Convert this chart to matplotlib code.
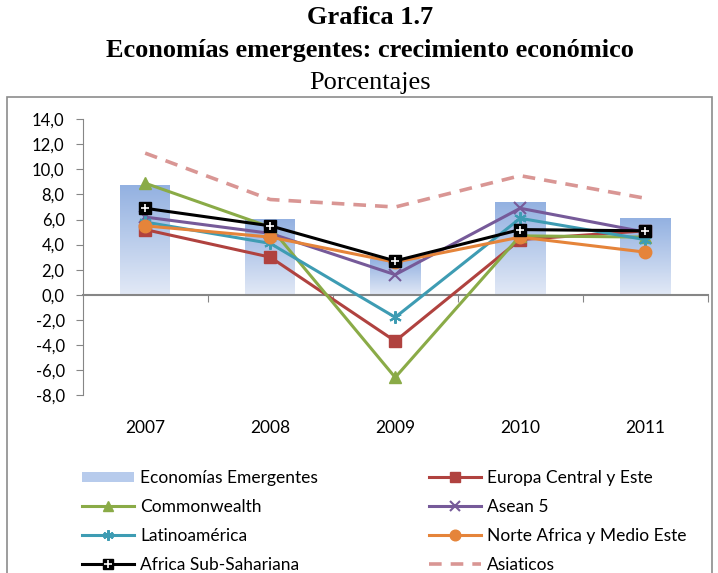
"""Grafica 1.7 -- Economias emergentes: crecimiento economico (porcentajes)."""
import matplotlib
matplotlib.use("Agg")
import matplotlib.pyplot as plt
import numpy as np
from matplotlib.colors import LinearSegmentedColormap
from matplotlib.legend_handler import HandlerTuple
from matplotlib.patches import Patch, Rectangle
from matplotlib.ticker import FuncFormatter

years = ["2007", "2008", "2009", "2010", "2011"]

emergentes = [8.7, 6.0, 2.8, 7.4, 6.1]
europa_central = [5.2, 3.0, -3.7, 4.4, 5.1]
commonwealth = [8.9, 5.4, -6.6, 4.7, 4.6]
asean5 = [6.2, 4.9, 1.6, 6.9, 5.0]
latinoamerica = [5.8, 4.1, -1.8, 6.1, 4.4]
norte_africa = [5.5, 4.6, 2.6, 4.6, 3.4]
africa_sub = [6.9, 5.5, 2.7, 5.2, 5.1]
asiaticos = [11.3, 7.6, 7.0, 9.5, 7.7]

FONT = "Lato"
plt.rcParams["font.family"] = [FONT, "DejaVu Sans"]

fig = plt.figure(figsize=(7.18, 5.73), dpi=100)
W, H = 718.0, 573.0
ax = fig.add_axes([82.7 / W, 1 - 395 / H, 625 / W, 275.7 / H])

x = np.arange(len(years))

# gradient bars (Economias Emergentes)
cmap = LinearSegmentedColormap.from_list("bar", ["#e2e9f6", "#93b1e1"])
grad = np.linspace(0, 1, 256).reshape(-1, 1)
for xi, v in zip(x, emergentes):
    ax.imshow(grad, cmap=cmap, origin="lower", aspect="auto",
              extent=[xi - 0.2, xi + 0.2, 0, v], zorder=1)

lw = 2.2
series = [
    (europa_central, "#b0423f", dict(marker="s", markersize=8)),
    (commonwealth, "#8aab47", dict(marker="^", markersize=9)),
    (asean5, "#765a99", dict(marker="x", markersize=9, markeredgewidth=1.5)),
    (latinoamerica, "#3e9cb3", dict(marker=(6, 2, 0), markersize=9, markeredgewidth=1.5)),
    (norte_africa, "#e5843a", dict(marker="o", markersize=9)),
]
handles = {}
for vals, color, mk in series:
    ln, = ax.plot(x, vals, color=color, lw=lw, zorder=3, **mk)
    handles[color] = ln

black, = ax.plot(x, africa_sub, color="black", lw=lw, marker="s", markersize=8, zorder=4)
plus, = ax.plot(x, africa_sub, ls="none", marker="+", color="white", markersize=6,
                markeredgewidth=1.2, zorder=5)
dash, = ax.plot(x, asiaticos, color="#d99694", lw=2.6, ls=(0, (3.5, 2.5)), zorder=2)

ax.set_xlim(-0.5, len(years) - 0.5)
ax.set_ylim(-8, 14)
ax.set_yticks(np.arange(-8, 15, 2))
ax.yaxis.set_major_formatter(FuncFormatter(lambda v, p: ("%.1f" % v).replace(".", ",")))
ax.tick_params(axis="y", direction="out", length=5, color="#868686", labelsize=12, pad=8)

for s in ["top", "right"]:
    ax.spines[s].set_visible(False)
ax.spines["left"].set_color("#868686")
ax.spines["bottom"].set_position(("data", 0))
ax.spines["bottom"].set_color("#868686")
ax.spines["bottom"].set_linewidth(1.5)
ax.set_xticks(np.arange(0.5, len(years), 1))
ax.set_xticklabels([])
ax.tick_params(axis="x", direction="out", length=5, color="#868686")
for xi, lab in zip(x, years):
    ax.text(xi, -0.12, lab, transform=ax.get_xaxis_transform(), ha="center", va="center",
            fontsize=12.5)

# titles
serif = dict(ha="center", va="center", family="Liberation Serif", fontsize=19)
fig.text(370 / W, 1 - 18 / H, "Grafica 1.7", fontweight="bold", **serif)
fig.text(370 / W, 1 - 50 / H, "Economías emergentes: crecimiento económico",
         fontweight="bold", **serif)
fig.text(370 / W, 1 - 83 / H, "Porcentajes", **serif)

# outer frame
fig.add_artist(Rectangle((7 / W, -0.02), 705 / W, (573 - 97) / H + 0.02,
                         transform=fig.transFigure, fill=False, edgecolor="#8c8c8c", lw=1.2))

# legends (two columns placed separately)
bar_patch = Patch(facecolor="#b7cbec", edgecolor="none")
col1 = [bar_patch, handles["#8aab47"], handles["#3e9cb3"], (black, plus)]
lab1 = ["Economías Emergentes", "Commonwealth", "Latinoamérica", "Africa Sub-Sahariana"]
col2 = [handles["#b0423f"], handles["#765a99"], handles["#e5843a"], dash]
lab2 = ["Europa Central y Este", "Asean 5", "Norte Africa y Medio Este", "Asiaticos"]
common = dict(frameon=False, fontsize=12.5, handlelength=3.0, handletextpad=0.35,
              labelspacing=0.74, borderaxespad=0, borderpad=0, handleheight=0.5,
              markerscale=0.85, handler_map={tuple: HandlerTuple(ndivide=1)})
fig.legend(col1, lab1, loc="upper left", bbox_to_anchor=(82 / W, 1 - 470 / H), **common)
fig.legend(col2, lab2, loc="upper left", bbox_to_anchor=(429 / W, 1 - 470 / H), **common)

fig.savefig("out.png", dpi=100, facecolor="white")
